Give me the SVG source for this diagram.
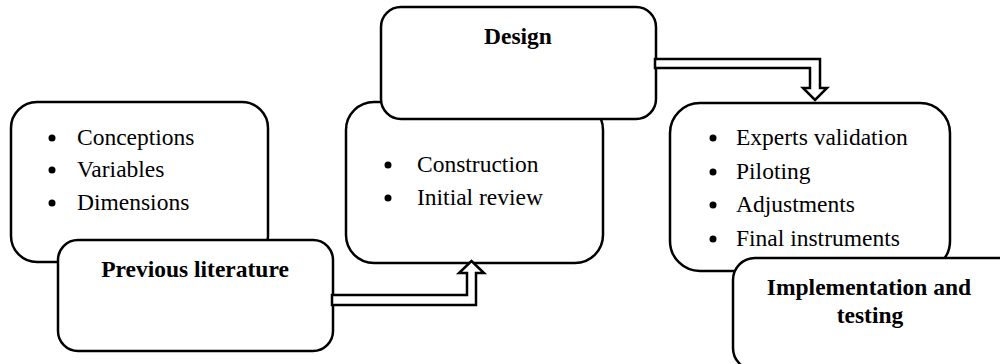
<svg xmlns="http://www.w3.org/2000/svg" width="1000" height="364" viewBox="0 0 1000 364">
  <style>
    .box { fill: #ffffff; stroke: #000000; stroke-width: 2.5; }
    .arrow { fill: #ffffff; stroke: #000000; stroke-width: 2.5; stroke-linejoin: miter; }
    .item { font-family: "Liberation Serif", "Times New Roman", serif; font-size: 23.5px; fill: #000000; }
    .title { font-family: "Liberation Serif", "Times New Roman", serif; font-size: 23.5px; font-weight: bold; fill: #000000; text-anchor: middle; }
    .dot { fill: #000000; }
  </style>
  <rect width="1000" height="364" fill="#ffffff"/>

  <!-- Stage 1: previous literature -->
  <g id="literature-details">
    <rect class="box" x="11" y="102" width="257" height="160" rx="26" ry="26"/>
    <circle class="dot" cx="52" cy="138" r="3.5"/>
    <text class="item" x="77" y="145">Conceptions</text>
    <circle class="dot" cx="52" cy="170" r="3.5"/>
    <text class="item" x="77" y="177">Variables</text>
    <circle class="dot" cx="52" cy="203" r="3.5"/>
    <text class="item" x="77" y="210">Dimensions</text>
  </g>
  <g id="literature">
    <rect class="box" x="58" y="240" width="275" height="111" rx="20" ry="20"/>
    <text class="title" x="195" y="277">Previous literature</text>
  </g>

  <!-- Stage 2: design -->
  <g id="design-details">
    <rect class="box" x="346" y="102" width="257" height="161" rx="28" ry="28"/>
    <circle class="dot" cx="388" cy="165" r="3.5"/>
    <text class="item" x="417" y="172">Construction</text>
    <circle class="dot" cx="388" cy="198" r="3.5"/>
    <text class="item" x="417" y="205">Initial review</text>
  </g>
  <g id="design">
    <rect class="box" x="381" y="7" width="275" height="112" rx="20" ry="20"/>
    <text class="title" x="518" y="44">Design</text>
  </g>

  <!-- Stage 3: implementation and testing -->
  <g id="implementation-details">
    <rect class="box" x="670" y="103" width="280" height="168" rx="30" ry="30"/>
    <circle class="dot" cx="713" cy="138" r="3.5"/>
    <text class="item" x="736" y="145">Experts validation</text>
    <circle class="dot" cx="713" cy="172" r="3.5"/>
    <text class="item" x="736" y="179">Piloting</text>
    <circle class="dot" cx="713" cy="205" r="3.5"/>
    <text class="item" x="736" y="212">Adjustments</text>
    <circle class="dot" cx="713" cy="239" r="3.5"/>
    <text class="item" x="736" y="246">Final instruments</text>
  </g>
  <g id="implementation">
    <rect class="box" x="733" y="258" width="292" height="112" rx="22" ry="22"/>
    <text class="title" x="869" y="295">Implementation and</text>
    <text class="title" x="870" y="323">testing</text>
  </g>

  <!-- Hollow block arrows between stages -->
  <g id="connectors">
    <polygon class="arrow" points="332,295 467,295 467,273 459,273 471.5,261 484,273 476,273 476,305 332,305"/>
    <polygon class="arrow" points="655,59 820,59 820,88 827,88 815,100 803,88 810,88 810,68 655,68"/>
  </g>
</svg>
